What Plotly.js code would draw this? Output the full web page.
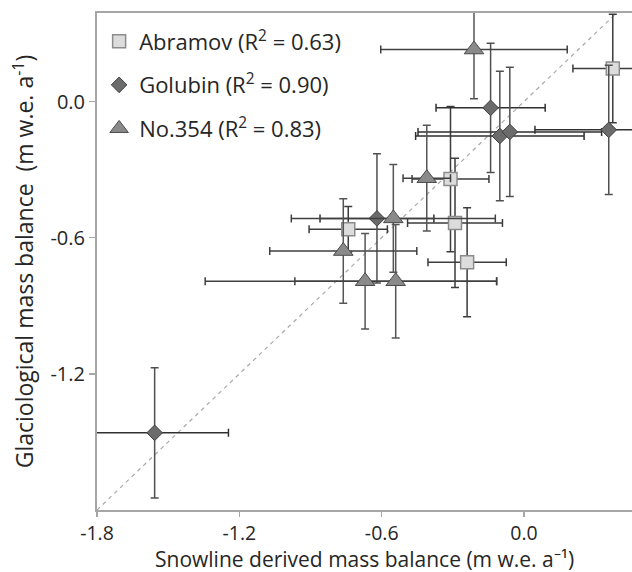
<!DOCTYPE html>
<html>
<head>
<meta charset="utf-8">
<script src="https://cdn.plot.ly/plotly-3.0.1.min.js"></script>
<style>html,body{margin:0;padding:0;background:#fff;}#chart{width:632px;height:572px;}</style>
</head>
<body>
<div id="chart"></div>
<script>
// Abramov
const abrX    = [0.374, -0.310, -0.291, -0.741, -0.240];
const abrY    = [0.145, -0.342, -0.535, -0.563, -0.708];
const abrXErr = [0.168, 0.162, 0.200, 0.165, 0.165];
const abrYErr = [0.239, 0.320, 0.285, 0.100, 0.240];
// Golubin
const golX    = [-0.141, -0.102, -0.060, 0.357, -0.620, -1.557];
const golY    = [-0.028, -0.152, -0.134, -0.125, -0.515, -1.460];
const golXErr = [0.230, 0.355, 0.387, 0.311, 0.240, 0.311];
const golYErr = [0.285, 0.285, 0.285, 0.285, 0.285, 0.287];
// No.354
const noX         = [-0.211, -0.410, -0.551, -0.762, -0.670, -0.541];
const noY         = [0.229, -0.338, -0.515, -0.659, -0.792, -0.792];
const noXErrPlus  = [0.393, 0.100, 0.430, 0.310, 0.555, 0.425];
const noXErrMinus = [0.393, 0.100, 0.430, 0.310, 0.674, 0.425];
const noYErr      = [0.217, 0.233, 0.237, 0.230, 0.210, 0.250];
// 1:1 line
const oneToOne = [-1.8, 0.6];
// names, titles and ticks
const seriesNames = ['Abramov (R<sup>2</sup> = 0.63)', 'Golubin (R<sup>2</sup> = 0.90)', 'No.354 (R<sup>2</sup> = 0.83)'];
const xTitle = 'Snowline derived mass balance (m w.e. a\u207B\u00B9)';
const yTitle = 'Glaciological mass balance  (m w.e. a<sup>-1</sup>)';
const xTicks = [-1.8, -1.2, -0.6, 0.0];
const yTicks = [-1.2, -0.6, 0.0];

const FONT = 'Open Sans, sans-serif';
const traces = [
  {x: oneToOne, y: oneToOne, mode: 'lines', showlegend: false, hoverinfo: 'skip',
   line: {color: '#a8a8a8', width: 1.2, dash: '4px,4px'}},
  {x: abrX, y: abrY, mode: 'markers', name: seriesNames[0], legendgroup: 'a',
   marker: {symbol: 'square', size: 13, color: '#dcdcdc', line: {color: '#8c8c8c', width: 1.5}},
   error_x: {type: 'data', array: abrXErr, color: '#3c3c3c', thickness: 1.5, width: 4},
   error_y: {type: 'data', array: abrYErr, color: '#3c3c3c', thickness: 1.5, width: 4}},
  {x: golX, y: golY, mode: 'markers', name: seriesNames[1], legendgroup: 'b',
   marker: {symbol: 'diamond', size: 12, color: '#6b6b6b', line: {color: '#404040', width: 1}},
   error_x: {type: 'data', array: golXErr, color: '#303030', thickness: 1.5, width: 4},
   error_y: {type: 'data', array: golYErr, color: '#505050', thickness: 1.5, width: 4}},
  {x: noX, y: noY, mode: 'markers', name: seriesNames[2], legendgroup: 'c',
   marker: {symbol: 'triangle-up', size: 17, color: '#8a8a8a', line: {color: '#4a4a4a', width: 1}},
   error_x: {type: 'data', symmetric: false, array: noXErrPlus, arrayminus: noXErrMinus, color: '#404040', thickness: 1.5, width: 4},
   error_y: {type: 'data', array: noYErr, color: '#555555', thickness: 1.5, width: 4}}
];

const layout = {
  width: 632, height: 572,
  margin: {l: 97, r: 0, t: 13, b: 62},
  paper_bgcolor: '#fff', plot_bgcolor: '#fff',
  font: {family: FONT, color: '#262626', size: 20},
  showlegend: true,
  legend: {x: 0.004, y: 0.985, xanchor: 'left', yanchor: 'top', bgcolor: 'rgba(0,0,0,0)',
           font: {family: FONT, size: 22, color: '#262626'}, traceorder: 'grouped', tracegroupgap: 12},
  xaxis: {range: [-1.8, 0.455], tickvals: xTicks, ticktext: xTicks.map(v => v.toFixed(1)),
          showgrid: false, zeroline: false, showline: true, linecolor: '#a6a6a6', linewidth: 2,
          mirror: true, ticks: 'outside', ticklen: 5, tickcolor: '#a6a6a6', tickwidth: 1.5,
          ticklabelstandoff: 0,
          tickfont: {family: FONT, size: 19.5, color: '#262626'}},
  yaxis: {range: [-1.8, 0.39], tickvals: yTicks, ticktext: yTicks.map(v => v.toFixed(1)),
          showgrid: false, zeroline: false, showline: true, linecolor: '#a6a6a6', linewidth: 2,
          ticks: 'outside', ticklen: 6, tickcolor: '#a6a6a6', tickwidth: 1.5,
          tickfont: {family: FONT, size: 20, color: '#262626'},
          title: {text: yTitle, font: {family: FONT, size: 23, color: '#262626'}, standoff: 10}},
  annotations: [
    {text: xTitle, xref: 'paper', yref: 'paper', x: 0.5, y: 0, xanchor: 'center', yanchor: 'top',
     yshift: -33, showarrow: false, font: {family: FONT, size: 21, color: '#262626'}}
  ]
};

Plotly.newPlot('chart', traces, layout, {staticPlot: true, displayModeBar: false});
</script>
</body>
</html>
